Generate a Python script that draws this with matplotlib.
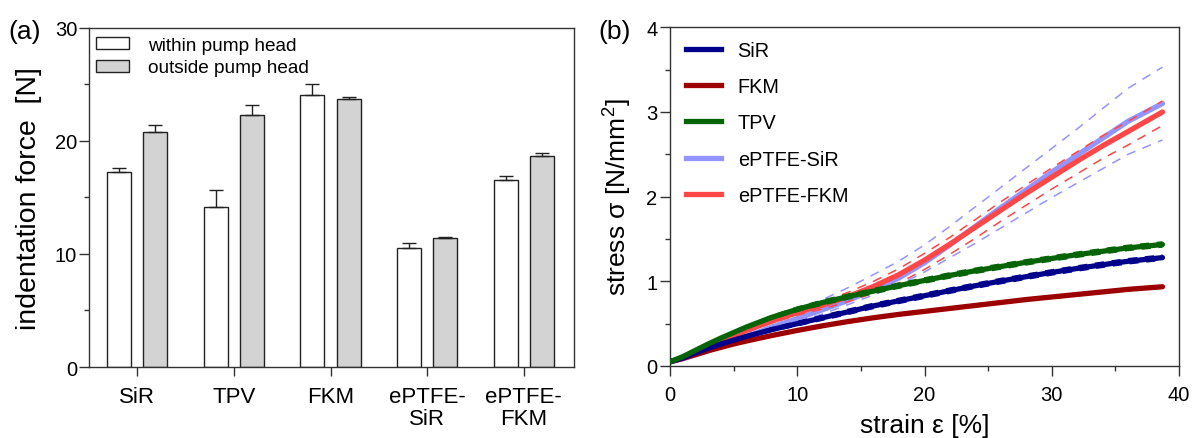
import matplotlib
matplotlib.use("Agg")
import matplotlib.pyplot as plt
from matplotlib.patches import Patch
from matplotlib.lines import Line2D
from matplotlib.ticker import MultipleLocator
import numpy as np

plt.rcParams["font.family"] = ["Liberation Sans", "DejaVu Sans"]
plt.rcParams["mathtext.fontset"] = "custom"
plt.rcParams["mathtext.rm"] = "Liberation Sans"
plt.rcParams["mathtext.it"] = "Liberation Sans:italic"

# ---- (a) indentation force ----
categories = ["SiR", "TPV", "FKM", "ePTFE-\nSiR", "ePTFE-\nFKM"]
within_mean = [17.25, 14.1, 24.0, 10.55, 16.55]
within_sd = [0.35, 1.5, 1.0, 0.45, 0.33]
outside_mean = [20.8, 22.3, 23.7, 11.4, 18.65]
outside_sd = [0.6, 0.85, 0.2, 0.05, 0.27]

# ---- (b) stress-strain curves ----
strain = [0, 1, 2, 3, 4, 5, 6, 8, 10, 12, 14, 16, 18, 20, 22, 24, 26, 28, 30, 32, 34, 36, 38.7]
sir = [0.05, 0.095, 0.155, 0.21, 0.26, 0.305, 0.35, 0.43, 0.50, 0.57, 0.64, 0.71, 0.77, 0.83,
       0.89, 0.948, 1.003, 1.055, 1.105, 1.152, 1.196, 1.237, 1.28]
fkm = [0.05, 0.09, 0.135, 0.18, 0.22, 0.26, 0.295, 0.36, 0.42, 0.475, 0.525, 0.57, 0.61, 0.645,
       0.68, 0.715, 0.75, 0.785, 0.815, 0.845, 0.875, 0.905, 0.936]
tpv = [0.05, 0.11, 0.185, 0.26, 0.33, 0.395, 0.46, 0.575, 0.67, 0.75, 0.82, 0.885, 0.95, 1.01,
       1.07, 1.125, 1.175, 1.225, 1.27, 1.315, 1.355, 1.395, 1.435]
eptfe_sir = [0.05, 0.085, 0.13, 0.18, 0.235, 0.29, 0.345, 0.46, 0.56, 0.665, 0.775, 0.90, 1.04,
             1.22, 1.43, 1.65, 1.87, 2.08, 2.29, 2.49, 2.69, 2.89, 3.10]
eptfe_fkm = [0.05, 0.09, 0.16, 0.23, 0.29, 0.355, 0.42, 0.53, 0.63, 0.72, 0.82, 0.94, 1.08,
             1.25, 1.44, 1.64, 1.84, 2.04, 2.23, 2.42, 2.60, 2.77, 3.0]

# spread of the repeated measurements (distance of the dashed curves from the mean)
sir_spread = [0, 0, 0, 0.005, 0.01, 0.01, 0.015, 0.02, 0.025, 0.028, 0.03, 0.03, 0.03, 0.03,
              0.03, 0.03, 0.03, 0.03, 0.03, 0.03, 0.03, 0.03, 0.03]
tpv_spread = sir_spread
eptfe_sir_up = [0, 0, 0.005, 0.01, 0.02, 0.03, 0.04, 0.06, 0.09, 0.12, 0.15, 0.18, 0.20, 0.21,
                0.22, 0.23, 0.24, 0.26, 0.28, 0.31, 0.35, 0.39, 0.43]
eptfe_sir_dn = [0, 0, 0, 0.005, 0.01, 0.015, 0.02, 0.03, 0.04, 0.05, 0.05, 0.06, 0.08, 0.11,
                0.15, 0.20, 0.24, 0.27, 0.30, 0.33, 0.36, 0.39, 0.43]
eptfe_fkm_up = [0, 0, 0, 0.005, 0.01, 0.01, 0.015, 0.02, 0.03, 0.04, 0.05, 0.06, 0.07, 0.08,
                0.08, 0.09, 0.10, 0.10, 0.11, 0.11, 0.12, 0.12, 0.13]
eptfe_fkm_dn = [0, 0, 0, 0.005, 0.01, 0.01, 0.015, 0.02, 0.03, 0.045, 0.06, 0.08, 0.10, 0.11,
                0.12, 0.13, 0.13, 0.14, 0.14, 0.15, 0.15, 0.16, 0.16]

FS_TICK = 14.5
SPINE = "#333333"

fig = plt.figure(figsize=(11.94, 4.39), dpi=100)

# ================= panel (a) =================
axa = fig.add_axes([89 / 1194, 1 - 368 / 439, 485 / 1194, 339.5 / 439])
x = np.arange(len(categories))
off, w = 0.188, 0.248
err_kw = dict(fmt="none", ecolor="#222222", elinewidth=1.0, capsize=4.7, capthick=1.0, zorder=3)
axa.bar(x - off, within_mean, w, color="white", edgecolor="#222222", linewidth=1.0, zorder=2)
axa.bar(x + off, outside_mean, w, color="#d3d3d3", edgecolor="#222222", linewidth=1.0, zorder=2)
axa.errorbar(x - off, within_mean, yerr=[np.zeros(len(x)), within_sd], **err_kw)
axa.errorbar(x + off, outside_mean, yerr=[np.zeros(len(x)), outside_sd], **err_kw)

axa.set_xlim(-0.5, 4.52)
axa.set_ylim(0, 30)
axa.set_xticks(x)
axa.set_xticklabels(categories, fontsize=16, linespacing=1.05)
axa.yaxis.set_major_locator(MultipleLocator(10))
axa.yaxis.set_minor_locator(MultipleLocator(5))
axa.tick_params(axis="y", which="major", length=7, width=1.0, color=SPINE, labelsize=FS_TICK, pad=1.5)
axa.tick_params(axis="y", which="minor", length=3.8, width=1.0, color=SPINE)
axa.tick_params(axis="x", which="major", length=6.5, width=1.0, color=SPINE, pad=7)
for s in axa.spines.values():
    s.set_color(SPINE)
    s.set_linewidth(1.0)
axa.set_ylabel("indentation force  [N]", fontsize=20.5)
axa.yaxis.set_label_coords(-0.097, 0.5)

axa.legend(
    handles=[Patch(facecolor="white", edgecolor="#222222", linewidth=1.0, label="within pump head"),
             Patch(facecolor="#d3d3d3", edgecolor="#222222", linewidth=1.0, label="outside pump head")],
    loc="upper left", bbox_to_anchor=(7 / 485, 0.973), frameon=False, fontsize=13.7,
    handlelength=1.75, handleheight=0.62, handletextpad=1.0, labelspacing=0.3,
    borderpad=0, borderaxespad=0)

fig.text(8 / 1194, 1 - 39 / 439, "(a)", fontsize=19, va="baseline", ha="left")

# ================= panel (b) =================
axb = fig.add_axes([670 / 1194, 1 - 367 / 439, 509 / 1194, 338.7 / 439])
series = [
    ("SiR", sir, sir_spread, sir_spread, "#00008b", 4),
    ("FKM", fkm, None, None, "#9c0000", 3),
    ("TPV", tpv, tpv_spread, tpv_spread, "#066306", 5),
    ("ePTFE-SiR", eptfe_sir, eptfe_sir_up, eptfe_sir_dn, "#9494ff", 1),
    ("ePTFE-FKM", eptfe_fkm, eptfe_fkm_up, eptfe_fkm_dn, "#ff4747", 2),
]
s_arr = np.array(strain)
for name, mean, up, dn, col, z in series:
    m = np.array(mean)
    if up is not None:
        axb.plot(s_arr, m + np.array(up), color=col, lw=1.1, ls=(0, (6, 5)), zorder=z)
        axb.plot(s_arr, m - np.array(dn), color=col, lw=1.1, ls=(0, (6, 5)), zorder=z)
    axb.plot(s_arr, m, color=col, lw=3.8, solid_capstyle="round", solid_joinstyle="round",
             zorder=z + 0.5, label=name)

axb.set_xlim(0, 40)
axb.set_ylim(0, 4)
axb.xaxis.set_major_locator(MultipleLocator(10))
axb.xaxis.set_minor_locator(MultipleLocator(5))
axb.yaxis.set_major_locator(MultipleLocator(1))
axb.yaxis.set_minor_locator(MultipleLocator(0.5))
axb.tick_params(axis="both", which="major", length=7, width=1.0, color=SPINE, labelsize=FS_TICK)
axb.tick_params(axis="both", which="minor", length=3.8, width=1.0, color=SPINE)
axb.tick_params(axis="x", which="major", pad=7)
axb.tick_params(axis="y", which="major", pad=2)
for s in axb.spines.values():
    s.set_color(SPINE)
    s.set_linewidth(1.0)
axb.set_xlabel("strain ε [%]", fontsize=19)
axb.xaxis.set_label_coords(0.5, -0.139)
axb.set_ylabel(r"stress σ [N/mm$^{\mathrm{2}}$]", fontsize=19)
axb.yaxis.set_label_coords(-0.071, 0.5)

handles = [Line2D([], [], color=c, lw=3.8) for _, _, _, _, c, _ in series]
labels = [n for n, *_ in series]
axb.legend(handles, labels, loc="upper left", bbox_to_anchor=(16 / 509, 0.96), frameon=False,
           fontsize=14.3, handlelength=1.75, handletextpad=0.85, labelspacing=0.87,
           borderpad=0, borderaxespad=0)

fig.text(598 / 1194, 1 - 39 / 439, "(b)", fontsize=19, va="baseline", ha="left")

fig.savefig("out.png", dpi=100)
